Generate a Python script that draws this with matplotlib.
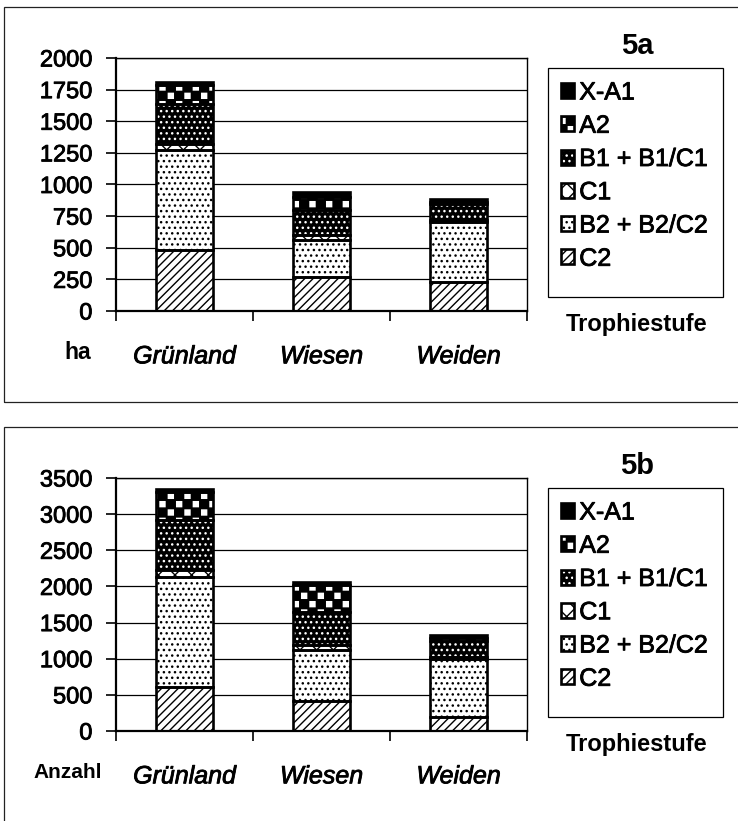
import warnings
warnings.filterwarnings('ignore')
import numpy as np
import matplotlib
matplotlib.use('Agg')
import matplotlib.pyplot as plt
import matplotlib.hatch as mhatch
import matplotlib.patheffects as pe
from matplotlib.path import Path
from matplotlib.patches import Rectangle
from matplotlib.legend_handler import HandlerTuple

# ---------------- data ----------------
categories = ['Grünland', 'Wiesen', 'Weiden']
series_labels = ['C2', 'B2 + B2/C2', 'C1', 'B1 + B1/C1', 'A2', 'X-A1']

# 5a: area (ha)
ha_C2 = [480, 269, 229]
ha_B2 = [790, 290, 475]
ha_C1 = [47, 40, 15]
ha_B1 = [323, 198, 125]
ha_A2 = [145, 105, 15]
ha_XA1 = [27, 39, 30]

# 5b: count (Anzahl)
n_C2 = [611, 417, 194]
n_B2 = [1519, 703, 801]
n_C1 = [92, 70, 25]
n_B1 = [695, 453, 230]
n_A2 = [386, 377, 40]
n_XA1 = [40, 40, 39]

ha_ticks = [0, 250, 500, 750, 1000, 1250, 1500, 1750, 2000]
n_ticks = [0, 500, 1000, 1500, 2000, 2500, 3000, 3500]


# ---------------- custom checkerboard hatch ('c') ----------------
class CheckerHatch(mhatch.HatchPatternBase):
    def __init__(self, hatch, density):
        self.n = hatch.count('c') * 12
        self.num_vertices = self.n * (self.n // 2) * 5 if self.n else 0

    def set_vertices_and_codes(self, vertices, codes):
        n = self.n
        cell = 1.0 / n
        s = 0.6 * cell
        sq = np.array([[0, 0], [s, 0], [s, s], [0, s], [0, 0]], float)
        sqc = np.array([Path.MOVETO, Path.LINETO, Path.LINETO, Path.LINETO,
                        Path.CLOSEPOLY], dtype=Path.code_type)
        parts, cparts = [], []
        for r in range(n):
            for c in range(n // 2):
                x0 = (2 * c + (r % 2)) * cell + (cell - s) / 2
                y0 = r * cell + (cell - s) / 2
                parts.append(sq + [x0, y0])
                cparts.append(sqc)
        vertices[:] = np.concatenate(parts)
        codes[:] = np.concatenate(cparts)


mhatch._hatch_types.append(CheckerHatch)

plt.rcParams['font.family'] = ['Liberation Sans', 'DejaVu Sans']
plt.rcParams['hatch.linewidth'] = 1.0

W, H = 738, 821
fig = plt.figure(figsize=(W / 100, H / 100), dpi=100)
fig.patch.set_facecolor('white')

heavy = [pe.withStroke(linewidth=0.6, foreground='black')]


def fx(px):
    return px / W


def fy(py):
    return 1 - py / H


styles = [
    dict(face='white', hc='black', hatch='////'),   # C2
    dict(face='white', hc='black', hatch='...'),    # B2
    dict(face='white', hc='black', hatch='xx'),     # C1
    dict(face='black', hc='white', hatch='...'),    # B1
    dict(face='black', hc='white', hatch='c'),      # A2
    dict(face='black', hc='black', hatch=None),     # X-A1
]


def panel(off, series, ticks, ylabel, ylabel_x, ylabel_size, tag):
    # panel frame
    fig.patches.append(Rectangle((fx(4), fy(402 + off)), 1.2, (395) / H,
                                 transform=fig.transFigure, fill=False,
                                 edgecolor='#222222', linewidth=0.9,
                                 clip_on=False))
    ax = fig.add_axes([fx(116), fy(311 + off), fx(527) - fx(116),
                       fy(58 + off) - fy(311 + off)])
    x = np.arange(len(categories))
    bottom = np.zeros(len(categories))
    handles = []
    for vals, st, lab in zip(series, styles, series_labels):
        vals = np.array(vals, float)
        b1 = ax.bar(x, vals, 0.415, bottom=bottom, color=st['face'],
                    edgecolor=st['hc'], hatch=st['hatch'], linewidth=0,
                    zorder=2)
        b2 = ax.bar(x, vals, 0.415, bottom=bottom, fill=False,
                    edgecolor='black', linewidth=1.9, zorder=3)
        handles.append(((b1[0], b2[0]), lab))
        bottom += vals
    ax.set_xlim(-0.5, 2.5)
    ax.set_ylim(ticks[0], ticks[-1])
    ax.set_yticks(ticks)
    ax.set_yticklabels([str(t) for t in ticks], fontsize=17)
    ax.set_xticks(x)
    ax.set_xticklabels(categories, fontsize=18, style='italic')
    ax.set_xticks([-0.5, 0.5, 1.5, 2.5], minor=True)
    ax.tick_params(axis='x', which='major', length=0, pad=24)
    ax.tick_params(axis='x', which='minor', length=7, width=1.2, direction='out')
    ax.tick_params(axis='y', length=7, width=1.2, direction='out', pad=10)
    for t in ax.get_xticklabels() + ax.get_yticklabels():
        t.set_path_effects(heavy)
    ax.yaxis.grid(True, color='black', linewidth=0.9)
    ax.set_axisbelow(True)
    for s in ['left', 'bottom']:
        ax.spines[s].set_linewidth(1.6)
    for s in ['top', 'right']:
        ax.spines[s].set_linewidth(1.0)
    # y-unit label
    fig.text(fx(ylabel_x), fy(352 + off), ylabel, fontsize=ylabel_size,
             fontweight='bold', ha='center', va='center')
    # tag
    fig.text(fx(637), fy(46 + off), tag, fontsize=21, fontweight='bold',
             ha='center', va='center')
    # legend frame
    fig.patches.append(Rectangle((fx(548), fy(297 + off)), fx(723) - fx(548),
                                 fy(68 + off) - fy(297 + off),
                                 transform=fig.transFigure, fill=False,
                                 edgecolor='black', linewidth=0.9,
                                 clip_on=False))
    hs = [h for h, _ in handles][::-1]
    ls = [l for _, l in handles][::-1]
    leg = ax.legend(hs, ls, handler_map={tuple: HandlerTuple(ndivide=1)},
                    loc='upper left',
                    bbox_to_anchor=(fx(548), fy(68 + off)),
                    bbox_transform=fig.transFigure,
                    borderaxespad=0, fontsize=18, frameon=False,
                    handlelength=0.55, handleheight=0.55, handletextpad=0.2,
                    labelspacing=0.37, borderpad=0.5)
    for t in leg.get_texts():
        t.set_path_effects(heavy)
    fig.text(fx(637), fy(324 + off), 'Trophiestufe', fontsize=17,
             fontweight='bold', ha='center', va='center')
    return ax


panel(0, [ha_C2, ha_B2, ha_C1, ha_B1, ha_A2, ha_XA1], ha_ticks, 'ha', 78, 16.5, '5a')
panel(420, [n_C2, n_B2, n_C1, n_B1, n_A2, n_XA1], n_ticks, 'Anzahl', 68, 15, '5b')

fig.savefig('out.png', dpi=100)
